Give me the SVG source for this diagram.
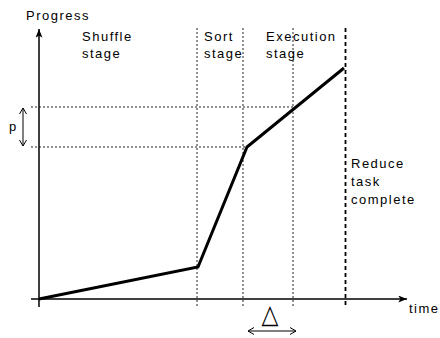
<svg xmlns="http://www.w3.org/2000/svg" width="440" height="338" viewBox="0 0 440 338">
  <style>
    .lbl { font-family: "Liberation Sans", Arial, sans-serif; font-size: 13px; letter-spacing: 1.5px; fill: #000; }
    .axis { stroke: #000; stroke-width: 1.5; fill: none; }
    .dot { stroke: #222; stroke-width: 1; stroke-dasharray: 2 2; fill: none; }
    .dash { stroke: #000; stroke-width: 1.8; stroke-dasharray: 4 3; fill: none; }
    .thin { stroke: #000; stroke-width: 1; fill: none; }
  </style>
  <defs>
    <marker id="head" viewBox="0 0 10 8" refX="10" refY="4" markerWidth="9" markerHeight="7" markerUnits="userSpaceOnUse" orient="auto">
      <path d="M0,0 L10,4 L0,8 L2.5,4 Z" fill="#000"/>
    </marker>
    <marker id="vee" viewBox="0 0 6 8" refX="6" refY="4" markerWidth="6" markerHeight="8" markerUnits="userSpaceOnUse" orient="auto-start-reverse">
      <path d="M0,0.5 L6,4 L0,7.5" fill="none" stroke="#000" stroke-width="1"/>
    </marker>
  </defs>
  <rect width="440" height="338" fill="#fff"/>

  <g id="connectors">
    <!-- stage boundaries -->
    <line class="dot" x1="197" y1="28" x2="197" y2="307"/>
    <line class="dot" x1="243" y1="28" x2="243" y2="307"/>
    <line class="dot" x1="293" y1="28" x2="293" y2="307"/>
    <line class="dash" x1="345.5" y1="28" x2="345.5" y2="307"/>
    <!-- progress level guides -->
    <line class="dot" x1="31" y1="107" x2="293" y2="107"/>
    <line class="dot" x1="31" y1="147" x2="246" y2="147"/>
    <!-- axes -->
    <line class="axis" x1="39" y1="307" x2="39" y2="29" marker-end="url(#head)"/>
    <line class="axis" x1="31" y1="299" x2="407" y2="299" marker-end="url(#head)"/>
    <!-- progress curve -->
    <polyline points="39,299 198,267 247,147 344,68" fill="none" stroke="#000" stroke-width="3" stroke-linejoin="miter"/>
    <!-- p span -->
    <line class="thin" x1="23" y1="108" x2="23" y2="146" marker-start="url(#vee)" marker-end="url(#vee)"/>
    <!-- delta span -->
    <line class="thin" x1="248" y1="331" x2="296" y2="331" marker-start="url(#vee)" marker-end="url(#vee)"/>
  </g>

  <g id="y-label"><text class="lbl" x="26" y="20">Progress</text></g>
  <g id="x-label"><text class="lbl" x="409" y="313">time</text></g>
  <g id="shuffle-stage"><text class="lbl" x="82" y="41">Shuffle</text><text class="lbl" x="82" y="58">stage</text></g>
  <g id="sort-stage"><text class="lbl" x="204" y="41">Sort</text><text class="lbl" x="204" y="58">stage</text></g>
  <g id="execution-stage"><text class="lbl" x="266" y="41">Execution</text><text class="lbl" x="266" y="58">stage</text></g>
  <g id="reduce-complete"><text class="lbl" x="351" y="168">Reduce</text><text class="lbl" x="351" y="186">task</text><text class="lbl" x="351" y="204">complete</text></g>
  <g id="p-label"><text class="lbl" x="9" y="131">p</text></g>
  <g id="delta-label"><text transform="translate(270,322.5) scale(1,1.2)" x="0" y="0" text-anchor="middle" font-family="DejaVu Sans, sans-serif" font-size="22" fill="#000">△</text></g>
</svg>
